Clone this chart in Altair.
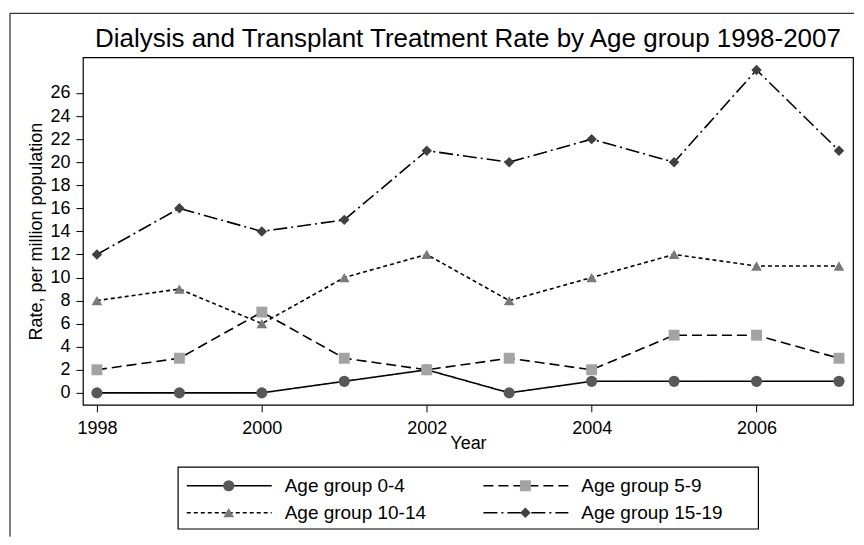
import altair as alt
import pandas as pd

# ---- data ----
years = [1998, 1999, 2000, 2001, 2002, 2003, 2004, 2005, 2006, 2007]
series_names = ["Age group 0-4", "Age group 5-9", "Age group 10-14", "Age group 15-19"]
rate_0_4 = [0, 0, 0, 1, 2, 0, 1, 1, 1, 1]
rate_5_9 = [2, 3, 7, 3, 2, 3, 2, 5, 5, 3]
rate_10_14 = [8, 9, 6, 10, 12, 8, 10, 12, 11, 11]
rate_15_19 = [12, 16, 14, 15, 21, 20, 22, 20, 28, 21]
x_ticks = [1998, 2000, 2002, 2004, 2006]
y_ticks = [0, 2, 4, 6, 8, 10, 12, 14, 16, 18, 20, 22, 24, 26]
title_text = "Dialysis and Transplant Treatment Rate by Age group 1998-2007"

# ---- styles ----
FONT = "Liberation Sans"
shapes = ["circle", "square", "triangle-up", "diamond"]
fills = ["#585858", "#a3a3a3", "#7a7a7a", "#404040"]
sizes = [125, 110, 220, 230]
dashes = [[1, 0], [10, 5], [4, 3], [14, 4, 2, 4]]

rows = []
for name, vals in zip(series_names, [rate_0_4, rate_5_9, rate_10_14, rate_15_19]):
    for yr, v in zip(years, vals):
        rows.append({"Year": yr, "Rate": v, "Series": name})
df = pd.DataFrame(rows)

dash_scale = alt.Scale(domain=series_names, range=dashes)
shape_scale = alt.Scale(domain=series_names, range=shapes)
color_scale = alt.Scale(domain=series_names, range=fills)
size_scale = alt.Scale(domain=series_names, range=sizes)

x_enc = alt.X(
    "Year:Q",
    scale=alt.Scale(domain=[1997.83, 2007.17], nice=False, zero=False),
    axis=alt.Axis(values=x_ticks, format="d", title="Year", tickSize=7,
                  labelPadding=8, titleY=44, titleBaseline="alphabetic"),
)
y_enc = alt.Y(
    "Rate:Q",
    scale=alt.Scale(domain=[-1.04, 29.1], nice=False, zero=False),
    axis=alt.Axis(values=y_ticks, title="Rate, per million population", tickSize=7,
                  labelPadding=6, labelOverlap=False, titleX=-46,
                  titleBaseline="middle"),
)

base = alt.Chart(df).encode(x=x_enc, y=y_enc)
lines = base.mark_line(color="black", strokeWidth=1.6).encode(
    strokeDash=alt.StrokeDash("Series:N", scale=dash_scale, legend=None),
)
points = base.mark_point(filled=True, opacity=1).encode(
    shape=alt.Shape("Series:N", scale=shape_scale, legend=None),
    color=alt.Color("Series:N", scale=color_scale, legend=None),
    size=alt.Size("Series:N", scale=size_scale, legend=None),
)

one = pd.DataFrame({"t": [title_text]})
title_mark = alt.Chart(one).mark_text(
    font=FONT, fontSize=26, color="black", align="center", baseline="alphabetic"
).encode(x=alt.value(385.5), y=alt.value(-10), text="t:N")

main = alt.layer(lines, points, title_mark).properties(width=771, height=348)

# ---- legend panel (with the outer page frame drawn relative to it) ----
leg_df = pd.DataFrame({"Series": series_names, "idx": list(range(len(series_names)))})
leg_base = (
    alt.Chart(leg_df)
    .transform_calculate(col="datum.idx % 2")
    .transform_calculate(row="floor(datum.idx / 2)")
    .transform_calculate(x1="9 + datum.col * 297")
    .transform_calculate(x2="94 + datum.col * 297")
    .transform_calculate(xm="51 + datum.col * 297")
    .transform_calculate(xt="107 + datum.col * 297")
    .transform_calculate(ly="19 + datum.row * 27")
)
lx = alt.Scale(domain=[0, 581], nice=False, zero=False)
ly = alt.Scale(domain=[0, 62], nice=False, zero=False, reverse=True)

leg_lines = leg_base.mark_rule(color="black", strokeWidth=1.6).encode(
    x=alt.X("x1:Q", scale=lx, axis=None), x2="x2:Q",
    y=alt.Y("ly:Q", scale=ly, axis=None),
    strokeDash=alt.StrokeDash("Series:N", scale=dash_scale, legend=None),
)
leg_pts = leg_base.mark_point(filled=True, opacity=1).encode(
    x=alt.X("xm:Q", scale=lx, axis=None),
    y=alt.Y("ly:Q", scale=ly, axis=None),
    shape=alt.Shape("Series:N", scale=shape_scale, legend=None),
    color=alt.Color("Series:N", scale=color_scale, legend=None),
    size=alt.Size("Series:N", scale=size_scale, legend=None),
)
leg_txt = leg_base.mark_text(align="left", baseline="middle", font=FONT, fontSize=19,
                             color="black").encode(
    x=alt.X("xt:Q", scale=lx, axis=None),
    y=alt.Y("ly:Q", scale=ly, axis=None),
    text="Series:N",
)

blank = pd.DataFrame({"k": [0]})
frame_top = alt.Chart(blank).mark_rule(color="black", strokeWidth=1).encode(
    x=alt.value(-168), x2=alt.value(677), y=alt.value(-454)
)
frame_left = alt.Chart(blank).mark_rule(color="black", strokeWidth=1).encode(
    x=alt.value(-168), y=alt.value(-454), y2=alt.value(70)
)

legend = alt.layer(frame_top, frame_left, leg_lines, leg_pts, leg_txt).properties(
    width=581, height=62
)

chart = (
    alt.vconcat(main, legend, spacing=62, center=True, bounds="flush")
    .resolve_scale(x="independent", y="independent")
    .properties(padding={"left": 0, "top": 3, "right": 0, "bottom": 0})
    .configure_view(stroke="black", strokeWidth=1.2)
    .configure_axis(
        grid=False, domain=False, tickColor="black", tickWidth=1,
        labelFont=FONT, labelFontSize=18, labelColor="black",
        titleFont=FONT, titleFontSize=18, titleFontWeight="normal", titleColor="black",
    )
)

chart.save("out.html", embed_options={"renderer": "svg", "actions": False})
